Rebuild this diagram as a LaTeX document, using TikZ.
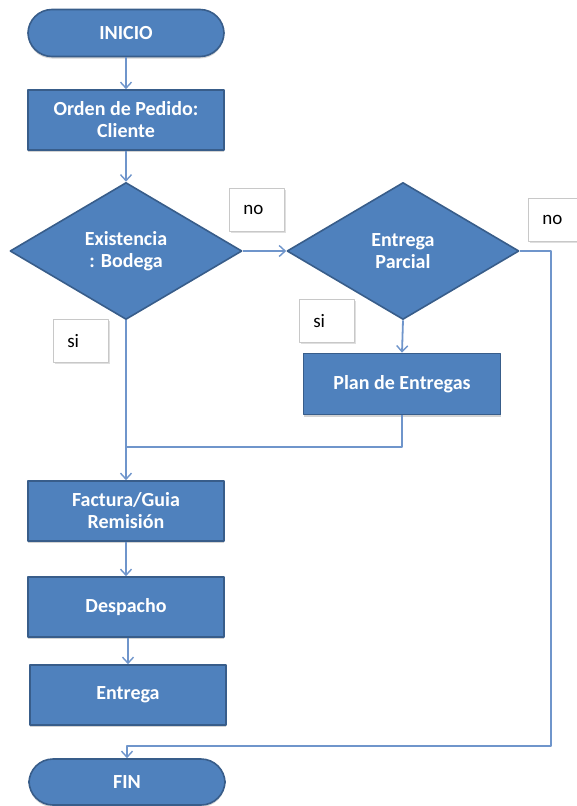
\documentclass[tikz,border=0pt]{standalone}
\usepackage{fontspec}
\setmainfont{Carlito}
\usepackage{tikz}
\usetikzlibrary{arrows.meta, positioning, shapes.geometric, shadows}

\definecolor{boxfill}{HTML}{4F81BD}
\definecolor{boxline}{HTML}{385D8A}
\definecolor{flowline}{HTML}{6F95CB}
\definecolor{lblline}{HTML}{C8C8C8}

\tikzset{
  proc/.style={draw=boxline, line width=1.6pt, fill=boxfill, text=white,
    font=\fontsize{20}{22}\selectfont\bfseries, align=center,
    minimum width=196pt, minimum height=60pt, inner sep=0pt,
    drop shadow={shadow xshift=0pt, shadow yshift=-2pt, opacity=.35}},
  term/.style={proc, rounded corners=24pt, minimum height=47pt},
  decision/.style={diamond, draw=boxline, line width=1.6pt, fill=boxfill, text=white,
    font=\fontsize{20}{22}\selectfont\bfseries, align=center,
    minimum width=232pt, minimum height=137pt, aspect=1.69, inner sep=0pt},
  lbl/.style={draw=lblline, line width=0.6pt, fill=white, text=black,
    font=\fontsize{19}{21}\selectfont, align=left, inner xsep=14pt,
    minimum height=43pt, anchor=north west,
    drop shadow={shadow xshift=1.5pt, shadow yshift=-1.5pt, opacity=.25}},
  flow/.style={draw=flowline, line width=1.8pt,
    -{Straight Barb[length=6pt, width=11pt, line width=1.4pt]}},
  link/.style={draw=flowline, line width=1.8pt}
}

\begin{document}
\begin{tikzpicture}[x=1pt, y=-1pt, line join=round]
  \useasboundingbox (0,0) rectangle (577,806);
  \clip (0,0) rectangle (577,806);
  % Inicio y pedido
  \node[term] (inicio) at (126,33) {INICIO};
  \node[proc] (orden) at (126,120) {Orden de Pedido:\\Cliente};
  % Decisiones
  \node[decision] (exist) at (126,251) {Existencia\\: Bodega};
  \node[decision] (parcial) at (403,251) {Entrega\\Parcial};
  \node[proc, minimum width=197pt, minimum height=61pt] (plan) at (402,384) {Plan de Entregas};
  % Proceso principal
  \node[proc] (factura) at (126,511) {Factura/Guia\\Remisión};
  \node[proc] (despacho) at (126,607) {Despacho};
  \node[proc] (entrega) at (128,695) {Entrega};
  \node[term, minimum height=46pt] (fin) at (127,782) {FIN};
  % Etiquetas
  \node[lbl, text width=27pt] (no1) at (229,188) {no};
  \node[lbl, text width=27pt] (si1) at (53,319) {si};
  \node[lbl, text width=27pt] (si2) at (299,299) {si};
  \node[lbl, text width=30pt] (no2) at (528,198) {no};
  % Conectores
  \coordinate (join) at (126,447);
  \coordinate (cornerR) at (551,746);
  \draw[flow] (inicio) -- (orden);
  \draw[flow] (orden) -- (exist);
  \draw[flow] (exist.east) -- (parcial.west);
  \draw[flow] (parcial.south) -- (plan.north);
  \draw[flow] (exist.south) -- (factura.north);
  \draw[link] (plan.south) |- (join);
  \draw[flow] (factura) -- (despacho);
  \draw[flow] (despacho.south -| entrega.north) -- (entrega.north);
  \draw[flow] (parcial.east) -| (cornerR) -- (fin.north |- cornerR) -- (fin.north);
\end{tikzpicture}
\end{document}
